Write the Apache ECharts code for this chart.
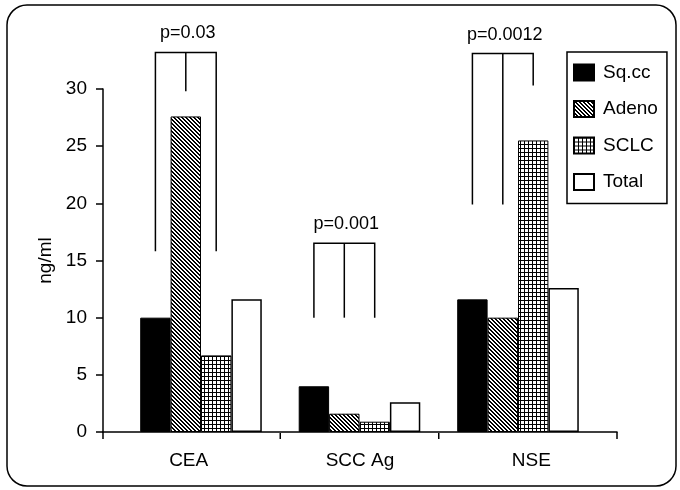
<!DOCTYPE html>
<html><head><meta charset="utf-8">
<script src="https://cdn.jsdelivr.net/npm/echarts@6/dist/echarts.min.js"></script>
<style>html,body{margin:0;padding:0;background:#fff}#c{width:680px;height:490px}</style>
</head><body><div id="c"></div>
<script>
const categories = ['CEA', 'SCC Ag', 'NSE'];
const seriesNames = ['Sq.cc', 'Adeno', 'SCLC', 'Total'];
const sqcc = [10.0, 4.0, 11.6];
const adeno = [27.6, 1.6, 10.0];
const sclc = [6.7, 0.9, 25.5];
const total = [11.6, 2.6, 12.6];
const yMin = 0, yMax = 30, yStep = 5;
const pLabels = ['p=0.03', 'p=0.001', 'p=0.0012'];
const bracketTop = [33.2, 16.5, 33.1];
const legLeftBottom = [15.8, 10.0, 19.9];
const legMidBottom = [29.8, 10.0, 19.9];
const legRightBottom = [15.8, 10.0, 30.3];

const FONT = 'Liberation Sans, Arial, sans-serif';
const GAP = 0.233;

function makePattern(fn, n) {
  const c = document.createElement('canvas');
  c.width = n; c.height = n;
  const ctx = c.getContext('2d');
  const img = ctx.createImageData(n, n);
  for (let y = 0; y < n; y++) for (let x = 0; x < n; x++) {
    const k = (y * n + x) * 4;
    const v = fn(x, y) ? 0 : 255;
    img.data[k] = img.data[k + 1] = img.data[k + 2] = v;
    img.data[k + 3] = 255;
  }
  ctx.putImageData(img, 0, 0);
  return c;
}
const hatch = makePattern((x, y) => (((x - y) % 4) + 4) % 4 < 2, 4);
const gridPat = makePattern((x, y) => x % 4 === 0 || y % 4 === 0, 4);

const fills = [
  '#000',
  { image: hatch, repeat: 'repeat' },
  { image: gridPat, repeat: 'repeat' },
  '#fff'
];
const values = [sqcc, adeno, sclc, total];

const chart = echarts.init(document.getElementById('c'), null, { renderer: 'canvas' });

const barSeries = seriesNames.map((name, k) => ({
  type: 'bar', name: name, xAxisIndex: 1, yAxisIndex: 1,
  data: values[k], barGap: '0%', barCategoryGap: (GAP * 100) + '%',
  itemStyle: { color: fills[k], borderColor: '#000', borderWidth: k === 3 ? 1.5 : 1 },
  emphasis: { disabled: true }, animation: false
}));

const bracketData = categories.map((c, i) => [i, bracketTop[i], legLeftBottom[i], legMidBottom[i], legRightBottom[i]]);

const bracketSeries = {
  type: 'custom', xAxisIndex: 1, yAxisIndex: 1, clip: false, silent: true, animation: false,
  data: bracketData,
  renderItem: function (params, api) {
    const i = api.value(0);
    const base = api.coord([i, 0]);
    const cx = base[0], y0 = base[1];
    const bw = api.size([1, 0])[0];
    const barW = bw * (1 - GAP) / 4;
    const xL = cx - 1.5 * barW, xM = cx - 0.5 * barW, xR = cx + 0.5 * barW;
    const yT = api.coord([i, api.value(1)])[1];
    const yL = api.coord([i, api.value(2)])[1];
    const yM = api.coord([i, api.value(3)])[1];
    const yR = api.coord([i, api.value(4)])[1];
    const ls = { stroke: '#000', lineWidth: 1.5, fill: null };
    const children = [
      { type: 'polyline', shape: { points: [[xL, yL], [xL, yT], [xR, yT], [xR, yR]] }, style: ls },
      { type: 'line', shape: { x1: xM, y1: yT, x2: xM, y2: yM }, style: ls },
      { type: 'text', style: { text: pLabels[i], x: xM + 2, y: yT - 19, align: 'center', verticalAlign: 'middle', fontSize: 18, fontFamily: FONT, fill: '#000' } }
    ];
    if (i < categories.length - 1) {
      children.push({ type: 'line', shape: { x1: cx + bw / 2, y1: y0 + 1, x2: cx + bw / 2, y2: y0 + 7 }, style: ls });
    }
    return { type: 'group', children: children };
  }
};

chart.setOption({
  animation: false,
  backgroundColor: '#fff',
  textStyle: { fontFamily: FONT, color: '#000' },
  grid: [
    { left: 103, right: 63, top: 89, bottom: 58 },
    { left: 121.75, right: 82.75, top: 89, bottom: 58 }
  ],
  xAxis: [
    {
      type: 'category', gridIndex: 0, data: categories,
      axisLine: { show: true, lineStyle: { color: '#000', width: 1.5 } },
      axisTick: { show: true, length: 7, interval: function (idx) { return idx === 0; }, lineStyle: { color: '#000', width: 1.5 } },
      axisLabel: { fontSize: 19, color: '#000', fontFamily: FONT, margin: 19 },
      splitLine: { show: false }
    },
    { type: 'category', gridIndex: 1, data: categories, show: false }
  ],
  yAxis: [
    {
      type: 'value', gridIndex: 0, min: yMin, max: yMax, interval: yStep,
      name: 'ng/ml', nameLocation: 'middle', nameRotate: 90, nameGap: 46,
      nameTextStyle: { fontSize: 19, color: '#000', fontFamily: FONT },
      axisLine: { show: true, lineStyle: { color: '#000', width: 1.5 } },
      axisTick: { show: true, length: 7, lineStyle: { color: '#000', width: 1.5 } },
      axisLabel: { fontSize: 19, color: '#000', fontFamily: FONT, margin: 16 },
      splitLine: { show: false }
    },
    { type: 'value', gridIndex: 1, min: yMin, max: yMax, interval: yStep, show: false, splitLine: { show: false } }
  ],
  legend: {
    orient: 'vertical', left: 567, top: 52,
    data: seriesNames.map(n => ({ name: n, icon: 'rect' })),
    itemWidth: 20, itemHeight: 16, itemGap: 17.5,
    padding: [11, 9, 12, 6],
    borderColor: '#000', borderWidth: 1.5,
    textStyle: { fontSize: 19, color: '#000', fontFamily: FONT, padding: [0, 0, 0, 4] },
    selectedMode: false
  },
  graphic: [
    { type: 'rect', silent: true, z: -10, shape: { x: 7, y: 5, width: 669, height: 481, r: 20 }, style: { fill: null, stroke: '#000', lineWidth: 1.5 } }
  ],
  series: barSeries.concat([bracketSeries])
});
</script></body></html>
